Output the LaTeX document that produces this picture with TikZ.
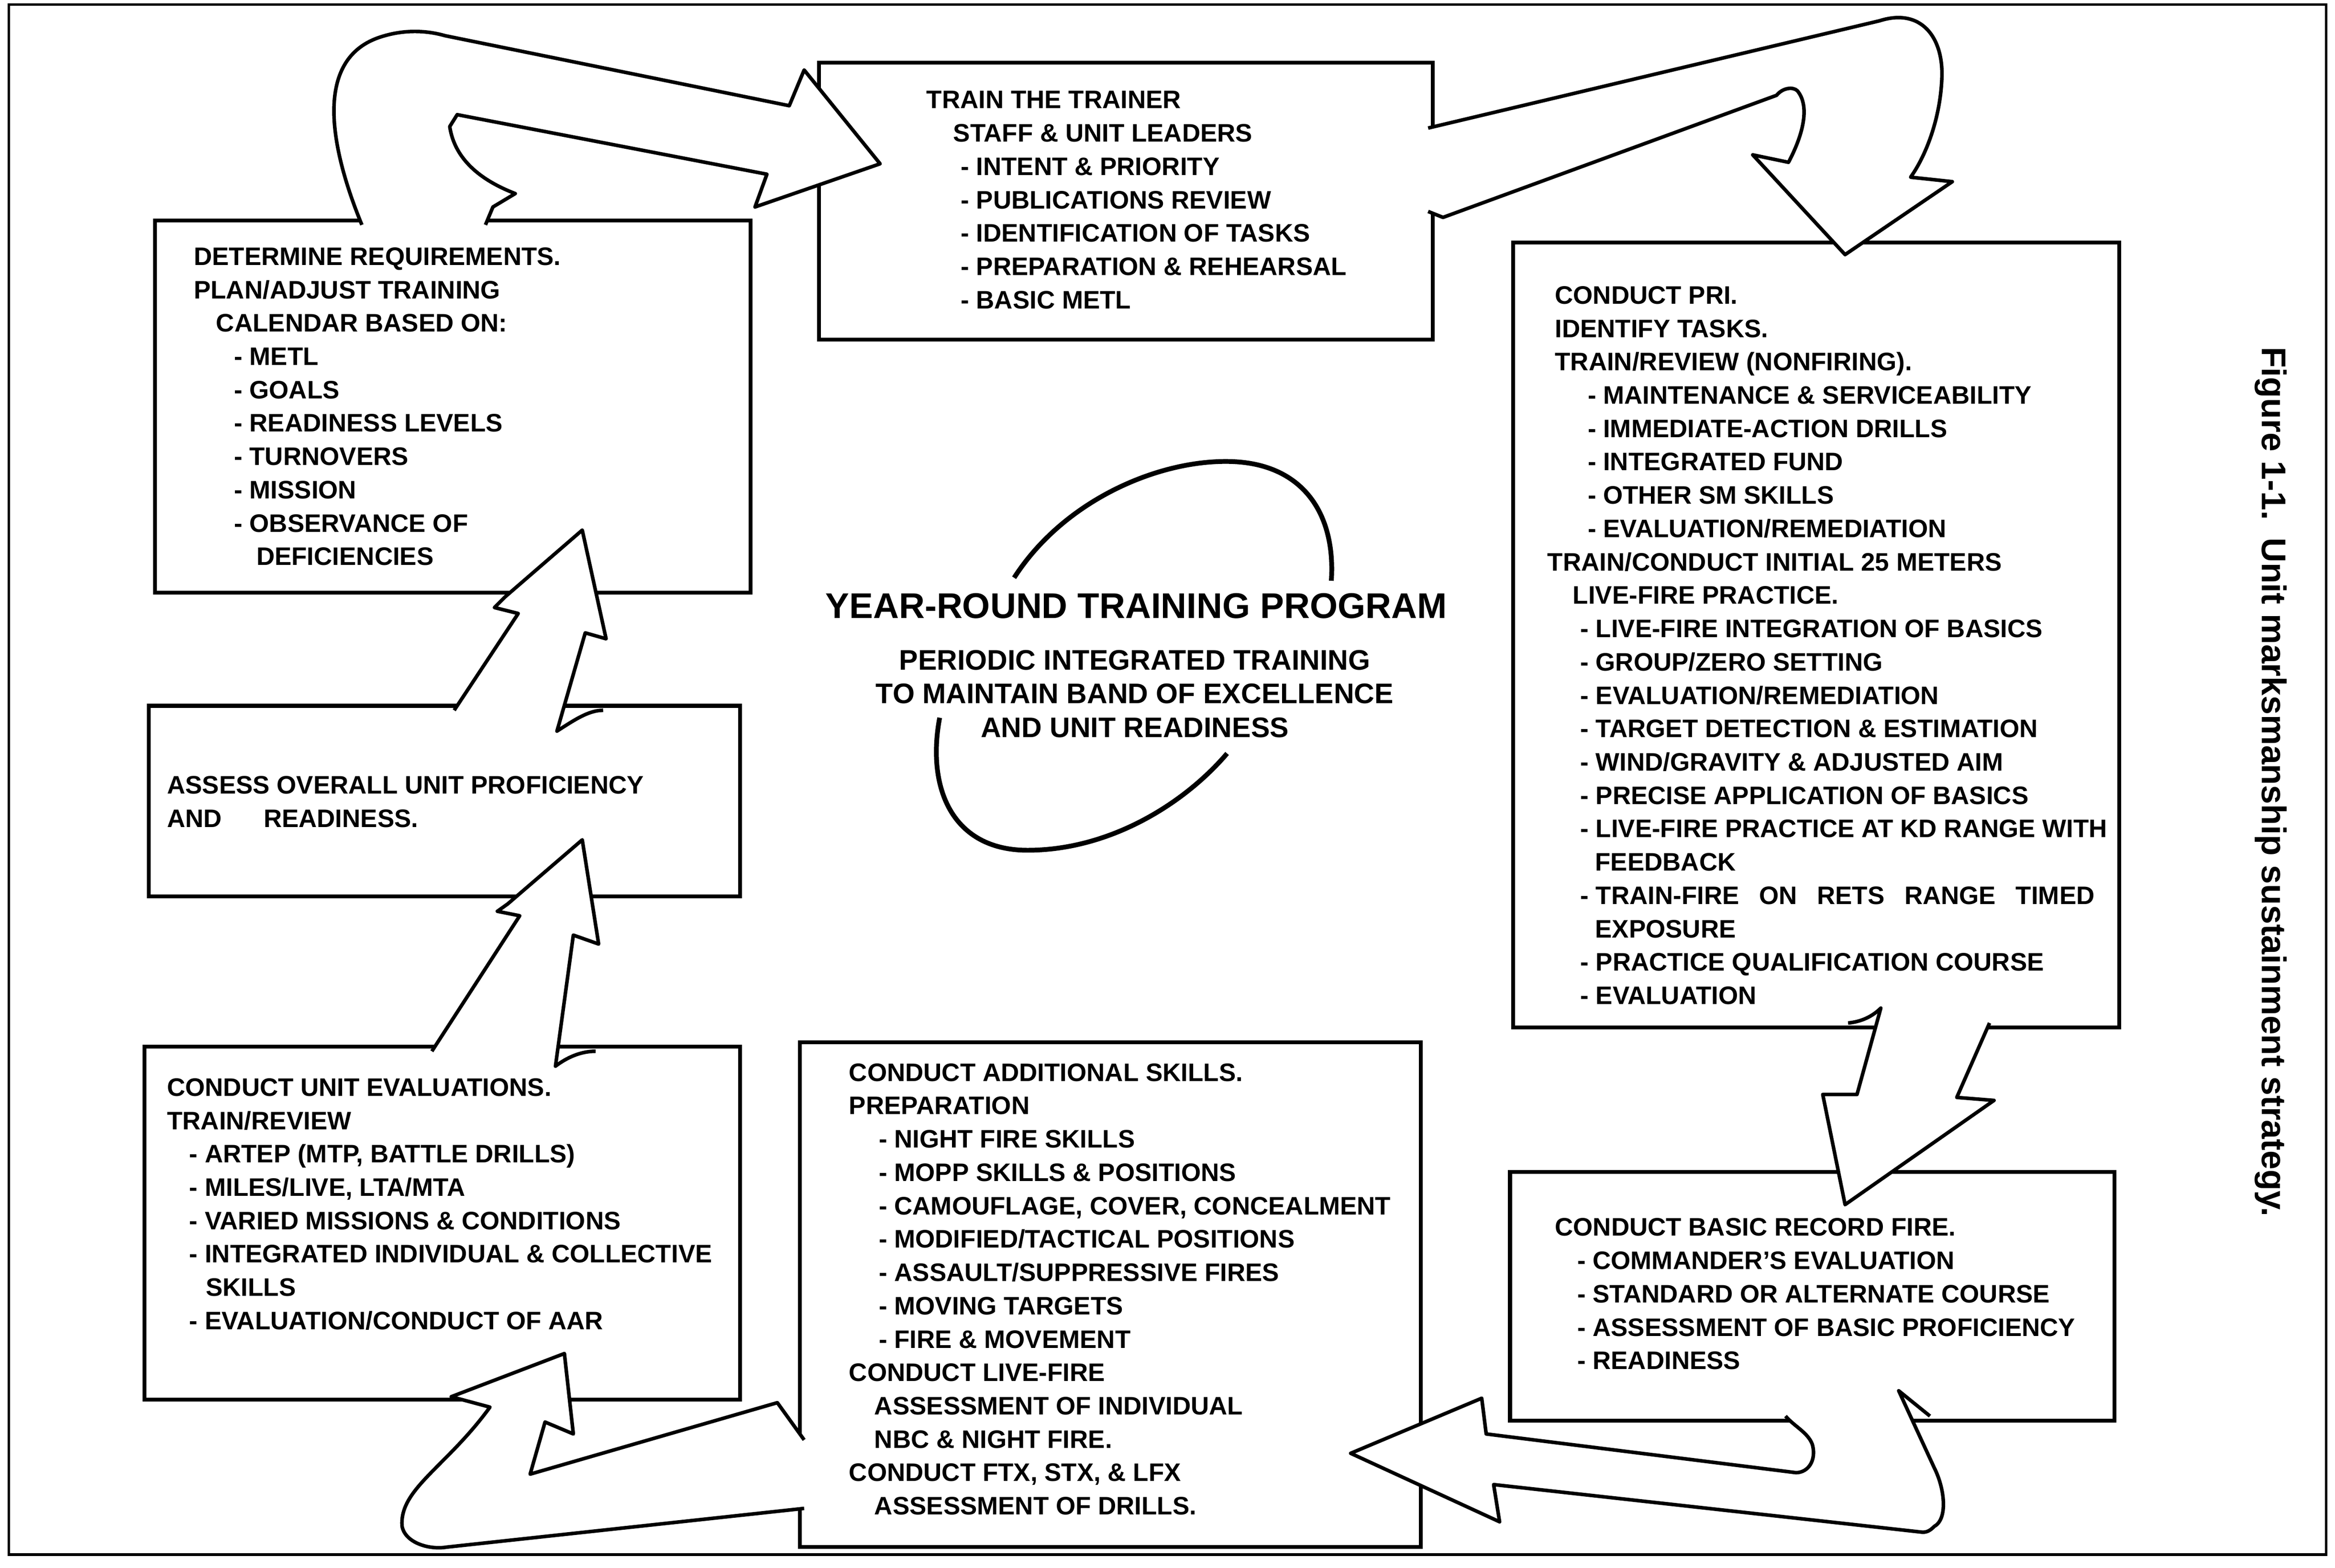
\documentclass[tikz,border=0pt]{standalone}
\usepackage{fontspec}
\setmainfont{Liberation Sans}
\usetikzlibrary{positioning}

\begin{document}
\begin{tikzpicture}[x=1pt, y=-1pt,
    box/.style = {draw, line width=2.6pt, outer sep=0pt, inner sep=0pt},
    arr/.style = {draw, fill=white, line width=2.4pt, line join=round},
    txt/.style = {font=\bfseries\fontsize{17}{22.4}\selectfont, align=left, inner sep=0pt},
    ttl/.style = {font=\bfseries\fontsize{24}{28}\selectfont, inner sep=0pt},
    sub/.style = {font=\bfseries\fontsize{19}{22.5}\selectfont, align=center, inner sep=0pt},
    figcap/.style = {font=\bfseries\fontsize{23}{27}\selectfont, inner sep=0pt}]
    \useasboundingbox (0,0) rectangle (1568,1053);
    \draw[line width=1.8pt] (6,3) rectangle (1562,1044);

    % boxes
    \node[box, minimum width=400pt, minimum height=250pt] (det) at (304,273) {};
    \node[box, minimum width=412pt, minimum height=186pt] (trn) at (756,135) {};
    \node[box, minimum width=397pt, minimum height=128pt] (ass) at (298.5,538) {};
    \node[box, minimum width=400pt, minimum height=237pt] (evl) at (297,821.5) {};
    \node[box, minimum width=417pt, minimum height=339pt] (add) at (745.5,869.5) {};
    \node[box, minimum width=407pt, minimum height=527pt] (pri) at (1219.5,426.5) {};
    \node[box, minimum width=406pt, minimum height=167pt] (bas) at (1217,870.5) {};

    % fat arrows
    \draw[arr] (243,151) .. controls (222,100) and (210,40) .. (255,25) .. controls (270,20) and (285,20) .. (299,24) -- (530,71) -- (540,47) -- (591,110) -- (507,139) -- (515,117) -- (307,77) -- (302,85) .. controls (305,105) and (320,120) .. (346,130) -- (331,139) -- (326,151);
    \draw[arr] (959,86) -- (1262,14) .. controls (1290,5) and (1305,25) .. (1304,52) .. controls (1303,80) and (1293,105) .. (1283,119) -- (1311,122) -- (1239,171) -- (1177,104) -- (1201,109) .. controls (1210,92) and (1216,72) .. (1207,61) .. controls (1204,58) and (1197,59) .. (1193,64) -- (969,146) -- (959,142);
    \draw[arr] (1241,687) .. controls (1252,686) and (1259,681) .. (1263,677) -- (1247,735) -- (1224,735) -- (1239,809) -- (1339,739) -- (1314,737) -- (1336,687);
    \draw[arr] (1296,951) -- (1275,934) -- (1299,986) .. controls (1306,1000) and (1308,1020) .. (1299,1025) .. controls (1296,1028) and (1294,1029) .. (1291,1029) -- (1003,997) -- (1007,1022) -- (907,976) -- (995,939) -- (998,963) -- (1206,989) .. controls (1214,989) and (1220,981) .. (1217,970) .. controls (1214,962) and (1205,958) .. (1199,951);
    \draw[arr] (540,967) -- (522,942) -- (356,990) -- (366,955) -- (385,963) -- (379,909) -- (303,938) -- (329,945) .. controls (300,985) and (268,1000) .. (270,1025) .. controls (272,1036) and (288,1041) .. (300,1039) -- (540,1013);
    \draw[arr] (290,706) -- (349,615) -- (334,612) -- (341,607) -- (391,564) -- (402,634) -- (385,628) -- (373,716) .. controls (381,710) and (390,706) .. (400,706);
    \draw[arr] (305,477) -- (348,412) -- (332,408) -- (339,401) -- (391,356) -- (407,429) -- (393,425) -- (374,491) .. controls (385,484) and (395,477) .. (405,477);

    % box texts
    \node[txt, below right=18pt and 26pt of det.north west] (detT) {DETERMINE REQUIREMENTS.\\
        PLAN/ADJUST TRAINING\\
        \hspace*{15pt}CALENDAR BASED ON:\\
        \hspace*{27pt}- METL\\
        \hspace*{27pt}- GOALS\\
        \hspace*{27pt}- READINESS LEVELS\\
        \hspace*{27pt}- TURNOVERS\\
        \hspace*{27pt}- MISSION\\
        \hspace*{27pt}- OBSERVANCE OF\\
        \hspace*{42pt}DEFICIENCIES};
    \node[txt, below right=19pt and 72pt of trn.north west] (trnT) {TRAIN THE TRAINER\\
        \hspace*{18pt}STAFF \& UNIT LEADERS\\
        \hspace*{23pt}- INTENT \& PRIORITY\\
        \hspace*{23pt}- PUBLICATIONS REVIEW\\
        \hspace*{23pt}- IDENTIFICATION OF TASKS\\
        \hspace*{23pt}- PREPARATION \& REHEARSAL\\
        \hspace*{23pt}- BASIC METL};
    \node[txt, below right=47pt and 12pt of ass.north west] (assT) {ASSESS OVERALL UNIT PROFICIENCY\\
        AND\hspace{28pt}READINESS.};
    \node[txt, below right=21pt and 15pt of evl.north west] (evlT) {CONDUCT UNIT EVALUATIONS.\\
        TRAIN/REVIEW\\
        \hspace*{15pt}- ARTEP (MTP, BATTLE DRILLS)\\
        \hspace*{15pt}- MILES/LIVE, LTA/MTA\\
        \hspace*{15pt}- VARIED MISSIONS \& CONDITIONS\\
        \hspace*{15pt}- INTEGRATED INDIVIDUAL \& COLLECTIVE\\
        \hspace*{26pt}SKILLS\\
        \hspace*{15pt}- EVALUATION/CONDUCT OF AAR};
    \node[txt, below right=14pt and 33pt of add.north west] (addT) {CONDUCT ADDITIONAL SKILLS.\\
        PREPARATION\\
        \hspace*{20pt}- NIGHT FIRE SKILLS\\
        \hspace*{20pt}- MOPP SKILLS \& POSITIONS\\
        \hspace*{20pt}- CAMOUFLAGE, COVER, CONCEALMENT\\
        \hspace*{20pt}- MODIFIED/TACTICAL POSITIONS\\
        \hspace*{20pt}- ASSAULT/SUPPRESSIVE FIRES\\
        \hspace*{20pt}- MOVING TARGETS\\
        \hspace*{20pt}- FIRE \& MOVEMENT\\
        CONDUCT LIVE-FIRE\\
        \hspace*{17pt}ASSESSMENT OF INDIVIDUAL\\
        \hspace*{17pt}NBC \& NIGHT FIRE.\\
        CONDUCT FTX, STX, \& LFX\\
        \hspace*{17pt}ASSESSMENT OF DRILLS.};
    \node[txt, below right=29pt and 23pt of pri.north west] (priT) {\hspace*{5pt}CONDUCT PRI.\\
        \hspace*{5pt}IDENTIFY TASKS.\\
        \hspace*{5pt}TRAIN/REVIEW (NONFIRING).\\
        \hspace*{27pt}- MAINTENANCE \& SERVICEABILITY\\
        \hspace*{27pt}- IMMEDIATE-ACTION DRILLS\\
        \hspace*{27pt}- INTEGRATED FUND\\
        \hspace*{27pt}- OTHER SM SKILLS\\
        \hspace*{27pt}- EVALUATION/REMEDIATION\\
        TRAIN/CONDUCT INITIAL 25 METERS\\
        \hspace*{17pt}LIVE-FIRE PRACTICE.\\
        \hspace*{22pt}- LIVE-FIRE INTEGRATION OF BASICS\\
        \hspace*{22pt}- GROUP/ZERO SETTING\\
        \hspace*{22pt}- EVALUATION/REMEDIATION\\
        \hspace*{22pt}- TARGET DETECTION \& ESTIMATION\\
        \hspace*{22pt}- WIND/GRAVITY \& ADJUSTED AIM\\
        \hspace*{22pt}- PRECISE APPLICATION OF BASICS\\
        \hspace*{22pt}- LIVE-FIRE PRACTICE AT KD RANGE WITH\\
        \hspace*{32pt}FEEDBACK\\
        \hspace*{22pt}- \makebox[335pt][s]{TRAIN-FIRE ON RETS RANGE TIMED}\\
        \hspace*{32pt}EXPOSURE\\
        \hspace*{22pt}- PRACTICE QUALIFICATION COURSE\\
        \hspace*{22pt}- EVALUATION};
    \node[txt, below right=31pt and 30pt of bas.north west] (basT) {CONDUCT BASIC RECORD FIRE.\\
        \hspace*{15pt}- COMMANDER'S EVALUATION\\
        \hspace*{15pt}- STANDARD OR ALTERNATE COURSE\\
        \hspace*{15pt}- ASSESSMENT OF BASIC PROFICIENCY\\
        \hspace*{15pt}- READINESS};

    % centre
    \draw[line width=3.2pt] (681,388) .. controls (715,335) and (780,308) .. (828,310) .. controls (875,312) and (897,345) .. (894,390);
    \draw[line width=3.2pt] (631,482) .. controls (622,530) and (640,571) .. (690,571) .. controls (745,571) and (795,540) .. (824,506);
    \node[ttl] (yr) at (763,407) {YEAR-ROUND TRAINING PROGRAM};
    \node[sub] (per) at (762,466) {PERIODIC INTEGRATED TRAINING\\ TO MAINTAIN BAND OF EXCELLENCE\\ AND UNIT READINESS};

    \node[figcap, rotate=-90] (fig) at (1525,525) {Figure 1-1.\hspace{12pt}Unit marksmanship sustainment strategy.};
\end{tikzpicture}
\end{document}
